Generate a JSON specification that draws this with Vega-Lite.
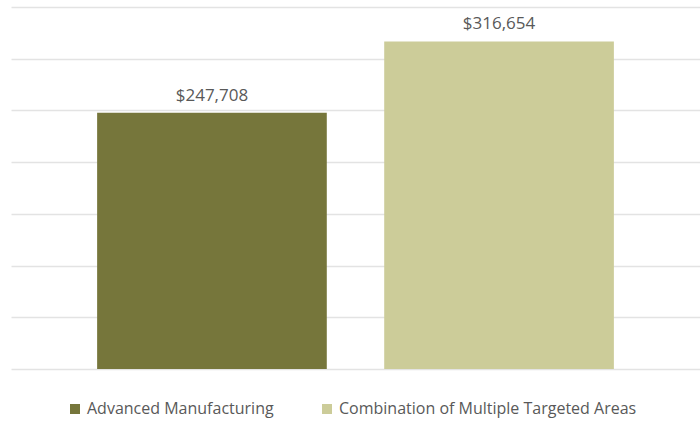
{
  "$schema": "https://vega.github.io/schema/vega-lite/v6.json",
  "autosize": "none",
  "padding": {"left": 11, "top": 7, "right": 0, "bottom": 52},
  "width": 689,
  "height": 362,
  "background": "white",
  "config": {"view": {"stroke": null}, "font": "Open Sans"},
  "data": {"values": [
    {"category": "Advanced Manufacturing", "amount": 247708, "label": "$247,708"},
    {"category": "Combination of Multiple Targeted Areas", "amount": 316654, "label": "$316,654"}
  ]},
  "encoding": {
    "x": {"field": "category", "type": "nominal", "sort": null,
      "scale": {"paddingInner": 0.2, "paddingOuter": 0.3},
      "axis": null},
    "y": {"field": "amount", "type": "quantitative",
      "scale": {"domain": [0, 350000], "nice": false},
      "axis": {"title": null, "labels": false, "ticks": false, "domain": false,
        "values": [0, 50000, 100000, 150000, 200000, 250000, 300000, 350000],
        "gridColor": "#e3e3e3", "gridWidth": 1.5}}
  },
  "layer": [
    {"mark": {"type": "bar"},
      "encoding": {
        "color": {"field": "category", "type": "nominal", "sort": null,
          "scale": {"range": ["#76763B", "#CCCC99"]},
          "legend": {"title": null, "orient": "none", "direction": "horizontal",
            "legendX": 56, "legendY": 394, "symbolType": "square", "symbolSize": 100,
            "symbolStrokeWidth": 0, "labelFontSize": 16, "labelColor": "#595959",
            "labelFont": "Open Sans", "columnPadding": 45, "labelOffset": 4, "labelLimit": 500}}
      }},
    {"mark": {"type": "text", "baseline": "bottom", "dy": -8, "fontSize": 17, "color": "#595959", "font": "Open Sans"},
      "encoding": {"text": {"field": "label"}}}
  ]
}
